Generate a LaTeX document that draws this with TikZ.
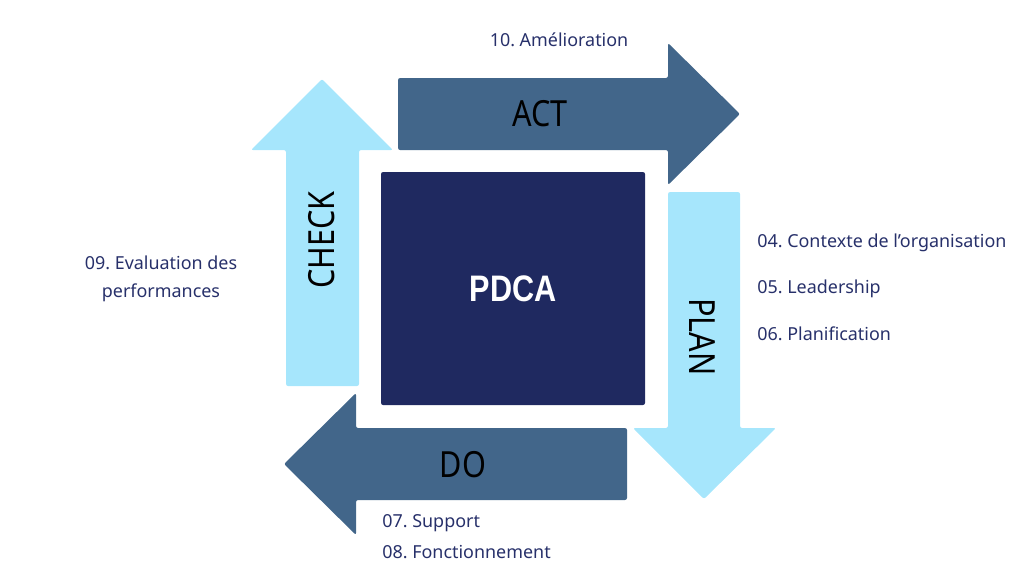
\documentclass[tikz,border=0pt]{standalone}
\usepackage{fontspec}
\setmainfont{Noto Sans}
\newfontfamily\condfont[FakeStretch=0.85]{Noto Sans}
\newfontfamily\condbold[FakeStretch=0.83]{Liberation Sans}
\usetikzlibrary{positioning}

\definecolor{pdcanavy}{HTML}{1F2960}
\definecolor{arrowsteel}{HTML}{42668A}
\definecolor{arrowsky}{HTML}{A6E6FC}
\definecolor{itemblue}{HTML}{27306A}

\begin{document}
\begin{tikzpicture}
	[x=0.02cm, y=-0.02cm,
	 block/.style={rounded corners=1.2pt},
	 phase/.style={font=\condfont\fontsize{20.5}{24}\selectfont, text=black, inner sep=0pt},
	 item/.style={font=\frenchspacing\fontsize{10.2}{15.7}\selectfont, text=itemblue, inner sep=0pt}]
	
	\useasboundingbox (0,0) rectangle (1024,576);
	
	% centre square
	\fill[pdcanavy, block] (381,172) rectangle (645,405);
	\node[font=\condbold\bfseries\fontsize{21}{24}\selectfont, text=white] (pdca) at (513,289) {PDCA};
	
	% the four arrows
	\fill[arrowsteel, block] (398,78) -- (668,78) -- (668,43) -- (740,114) -- (668,185) -- (668,150) -- (398,150) -- cycle;
	\fill[arrowsky, block] (668,192) -- (740,192) -- (740,428) -- (776,428) -- (704,499) -- (633,428) -- (668,428) -- cycle;
	\fill[arrowsteel, block] (627,428) -- (627,500) -- (356,500) -- (356,535) -- (284,464) -- (356,393) -- (356,428) -- cycle;
	\fill[arrowsky, block] (286,386) -- (286,150) -- (251,150) -- (322,79) -- (393,150) -- (359,150) -- (359,386) -- cycle;
	
	\node[phase] (act) at (540,114) {ACT};
	\node[phase, rotate=-90] (plan) at (702,337) {PLAN};
	\node[phase] (do) at (463,465) {DO};
	\node[phase, rotate=90] (check) at (322,240) {CHECK};
	
	% clauses
	\node[item] (imp) at (559,40) {10. Amélioration};
	\node[item, anchor=west] (ctx) at (757,243) {04. Contexte de l’organisation};
	\node[item, anchor=west] (lead) at (757,289) {05. Leadership};
	\node[item, anchor=west] (plani) at (757,334) {06. Planification};
	\node[item, anchor=west] (supp) at (382,523) {07. Support};
	\node[item, anchor=west] (oper) at (382,552) {08. Fonctionnement};
	\node[item, align=center] (eval) at (161,279) {09. Evaluation des\\performances};
\end{tikzpicture}
\end{document}
